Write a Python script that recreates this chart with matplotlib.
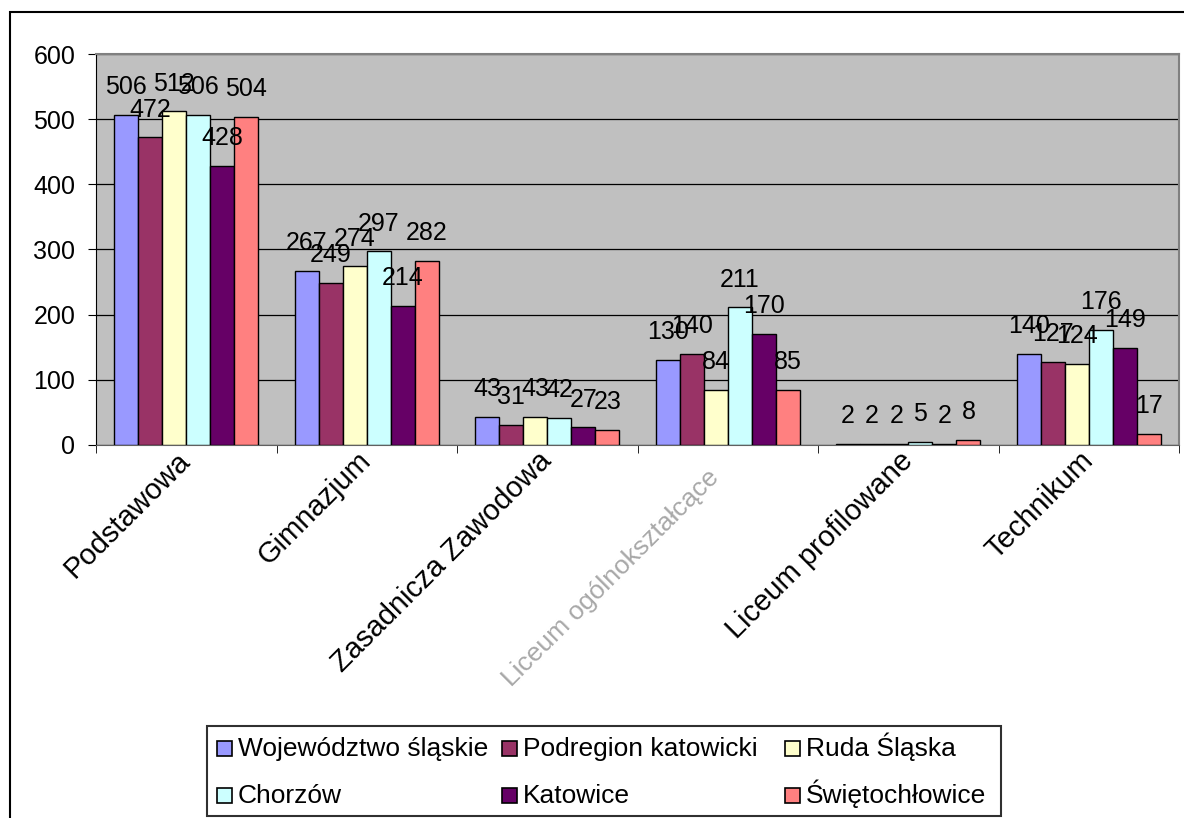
import matplotlib.pyplot as plt
import matplotlib.patches as mpatches
import matplotlib.transforms as mtransforms
import numpy as np

plt.rcParams['font.family'] = ['Liberation Sans', 'DejaVu Sans']

# dane
kategorie = ['Podstawowa', 'Gimnazjum', 'Zasadnicza Zawodowa',
             'Liceum ogólnokształcące', 'Liceum profilowane', 'Technikum']
serie = ['Województwo śląskie', 'Podregion katowicki', 'Ruda Śląska',
         'Chorzów', 'Katowice', 'Świętochłowice']
wojewodztwo = [506, 267, 43, 130, 2, 140]
podregion = [472, 249, 31, 140, 2, 127]
ruda = [512, 274, 43, 84, 2, 124]
chorzow = [506, 297, 42, 211, 5, 176]
katowice = [428, 214, 27, 170, 2, 149]
swietochlowice = [504, 282, 23, 85, 8, 17]
kolory = ['#9999FF', '#993366', '#FFFFCC', '#CCFFFF', '#660066', '#FF8080']

wartosci = [wojewodztwo, podregion, ruda, chorzow, katowice, swietochlowice]

W, H = 1184, 818
fig = plt.figure(figsize=(W/100, H/100), dpi=100)
ax = fig.add_axes([96/W, 1-445/H, (1179-96)/W, (445-54)/H])
ax.set_facecolor('#C0C0C0')


def fx(px):
    return px / W


def fy(py):
    return 1 - py / H


x = np.arange(len(kategorie))
w = 0.8 / len(serie)
for i, (nazwa, vals) in enumerate(zip(serie, wartosci)):
    pos = x - 0.4 + w/2 + i*w
    ax.bar(pos, vals, w, color=kolory[i], edgecolor='black', linewidth=1,
           label=nazwa, zorder=3)
    for px, v in zip(pos, vals):
        ax.annotate(str(v), (px, v), xytext=(0, 15), textcoords='offset points',
                    ha='center', va='baseline', fontsize=18, zorder=5)

ax.set_xlim(-0.5, len(kategorie) - 0.5)
ax.set_ylim(0, 600)
ax.set_yticks(np.arange(0, 601, 100))
ax.yaxis.grid(True, color='black', linewidth=0.9, zorder=0)
ax.set_axisbelow(True)
ax.tick_params(axis='y', direction='out', length=6, labelsize=18, pad=9)

# etykiety kategorii
ax.set_xticks(x)
ax.set_xticks(np.arange(-0.5, len(kategorie)), minor=True)
ax.tick_params(axis='x', which='major', length=0, pad=8)
ax.tick_params(axis='x', which='minor', length=6, direction='out')
ax.set_xticklabels(kategorie, rotation=45, ha='right', va='center',
                   rotation_mode='anchor', fontsize=21)
lic = ax.get_xticklabels()[3]
lic.set_color('#a8a8a8')
lic.set_fontsize(19)
lic.set_transform(lic.get_transform() +
                  mtransforms.ScaledTranslation(-0.12, -0.18, fig.dpi_scale_trans))

for s in ['top', 'right']:
    ax.spines[s].set_color('#808080')
    ax.spines[s].set_linewidth(1.5)
ax.spines['left'].set_color('black')
ax.spines['bottom'].set_color('#606060')

# ramka wykresu
rama = mpatches.Rectangle((fx(10), -0.05), 1.1, fy(12) + 0.05,
                          transform=fig.transFigure, fill=False,
                          edgecolor='black', linewidth=1.5, clip_on=False)
fig.patches.append(rama)

# legenda (3 kolumny, 2 wiersze)
ramka_leg = mpatches.Rectangle((fx(207), fy(816)), fx(1001) - fx(207),
                               fy(726) - fy(816), transform=fig.transFigure,
                               fill=True, facecolor='white', edgecolor='#303030',
                               linewidth=1.5)
fig.patches.append(ramka_leg)
kol_x = [217, 502, 785]
wiersz_y = [756, 803]
for i, nazwa in enumerate(serie):
    hx = kol_x[i % 3]
    by = wiersz_y[i // 3]
    fig.patches.append(mpatches.Rectangle((fx(hx), fy(by)), 15/W, 15/H,
                                          transform=fig.transFigure,
                                          facecolor=kolory[i], edgecolor='black',
                                          linewidth=1.2))
    fig.text(fx(hx + 21), fy(by), nazwa, fontsize=19, ha='left', va='baseline')

plt.savefig('out.png', dpi=100)
